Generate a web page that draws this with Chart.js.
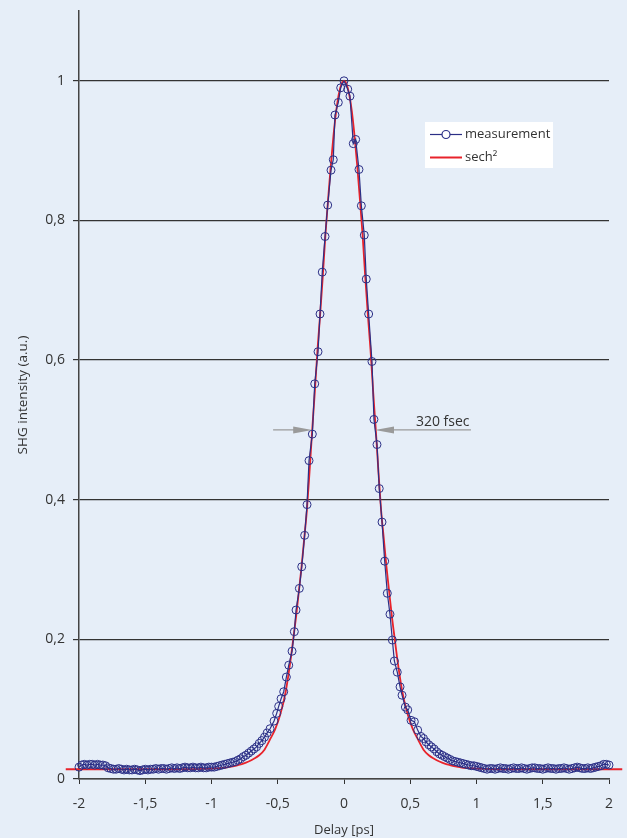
<!DOCTYPE html>
<html lang="en">
<head>
  <meta charset="UTF-8">
  <title>SHG autocorrelation</title>
  <script src="https://cdn.jsdelivr.net/npm/chart.js"></script>
  <style>
    html, body {
      margin: 0;
      padding: 0;
      background: #e6eef8;
    }
    #wrap {
      position: relative;
      width: 627px;
      height: 838px;
    }
  </style>
</head>
<body>
  <div id="wrap"><canvas id="acChart" width="627" height="838"></canvas></div>

  <script>
    // Measured autocorrelation trace (delay in ps, normalised SHG signal)
    const measDelay = [
      -2.00, -1.98, -1.96, -1.94, -1.92, -1.90, -1.88, -1.86, -1.84, -1.82, -1.80,
      -1.78, -1.76, -1.74, -1.72, -1.70, -1.68, -1.66, -1.64, -1.62, -1.60,
      -1.58, -1.56, -1.54, -1.52, -1.50, -1.48, -1.46, -1.44, -1.42, -1.40,
      -1.38, -1.36, -1.34, -1.32, -1.30, -1.28, -1.26, -1.24, -1.22, -1.20,
      -1.18, -1.16, -1.14, -1.12, -1.10, -1.08, -1.06, -1.04, -1.02, -1.00,
      -0.98, -0.96, -0.94, -0.92, -0.90, -0.88, -0.86, -0.84, -0.82, -0.80,
      -0.78, -0.76, -0.74, -0.72, -0.70, -0.68, -0.66, -0.64, -0.62, -0.60, -0.58,
      -0.558, -0.528, -0.508, -0.493, -0.475, -0.455, -0.435, -0.417, -0.392, -0.375,
      -0.362, -0.337, -0.319, -0.297, -0.279, -0.264, -0.239, -0.221, -0.196, -0.181,
      -0.164, -0.143, -0.123, -0.098, -0.081, -0.068, -0.043, -0.025, 0.000,
      0.028, 0.045, 0.070, 0.088, 0.113, 0.131, 0.153, 0.168, 0.186, 0.211,
      0.226, 0.249, 0.266, 0.287, 0.307, 0.327, 0.347, 0.365, 0.380, 0.402,
      0.423, 0.438, 0.463, 0.481, 0.506, 0.531, 0.556,
      0.58, 0.60, 0.62, 0.64, 0.66, 0.68, 0.70, 0.72, 0.74, 0.76, 0.78, 0.80,
      0.82, 0.84, 0.86, 0.88, 0.90, 0.92, 0.94, 0.96, 0.98,
      1.00, 1.02, 1.04, 1.06, 1.08, 1.10, 1.12, 1.14, 1.16, 1.18,
      1.20, 1.22, 1.24, 1.26, 1.28, 1.30, 1.32, 1.34, 1.36, 1.38,
      1.40, 1.42, 1.44, 1.46, 1.48, 1.50, 1.52, 1.54, 1.56, 1.58,
      1.60, 1.62, 1.64, 1.66, 1.68, 1.70, 1.72, 1.74, 1.76, 1.78,
      1.80, 1.82, 1.84, 1.86, 1.88, 1.90, 1.92, 1.94, 1.96, 1.98, 2.00
    ];
    const measSignal = [
      0.017, 0.020, 0.021, 0.020, 0.021, 0.021, 0.020, 0.021, 0.020, 0.020, 0.019,
      0.016, 0.015, 0.014, 0.014, 0.015, 0.014, 0.013, 0.014, 0.013, 0.013,
      0.014, 0.013, 0.012, 0.013, 0.014, 0.013, 0.014, 0.014, 0.015, 0.014,
      0.015, 0.015, 0.014, 0.015, 0.016, 0.015, 0.016, 0.015, 0.016, 0.017,
      0.016, 0.016, 0.017, 0.016, 0.016, 0.017, 0.016, 0.016, 0.017, 0.017,
      0.017, 0.018, 0.019, 0.020, 0.021, 0.022, 0.023, 0.024, 0.025, 0.027,
      0.029, 0.032, 0.034, 0.037, 0.040, 0.043, 0.046, 0.051, 0.055, 0.060, 0.066,
      0.072, 0.083, 0.094, 0.104, 0.115, 0.125, 0.146, 0.163, 0.183, 0.211,
      0.242, 0.273, 0.304, 0.349, 0.393, 0.456, 0.494, 0.566, 0.612, 0.666,
      0.726, 0.777, 0.822, 0.872, 0.887, 0.951, 0.969, 0.990, 1.000,
      0.988, 0.978, 0.910, 0.916, 0.873, 0.821, 0.779, 0.716, 0.666, 0.598,
      0.515, 0.479, 0.416, 0.368, 0.312, 0.266, 0.236, 0.199, 0.169, 0.153,
      0.132, 0.120, 0.103, 0.099, 0.084, 0.082, 0.070,
      0.061, 0.058, 0.053, 0.049, 0.046, 0.043, 0.039, 0.036, 0.034, 0.032, 0.030, 0.028,
      0.026, 0.025, 0.024, 0.023, 0.022, 0.021, 0.020, 0.019, 0.019,
      0.018, 0.017, 0.016, 0.015, 0.014, 0.015, 0.015, 0.014, 0.015, 0.016,
      0.015, 0.015, 0.014, 0.015, 0.016, 0.015, 0.015, 0.016, 0.015, 0.014,
      0.015, 0.016, 0.016, 0.015, 0.015, 0.014, 0.015, 0.016, 0.015, 0.015,
      0.014, 0.015, 0.015, 0.016, 0.015, 0.014, 0.015, 0.016, 0.017, 0.016,
      0.015, 0.015, 0.016, 0.015, 0.016, 0.017, 0.018, 0.019, 0.021, 0.021, 0.020
    ];

    // sech² fit
    const fitDelay = [
      -2.10, -1.50, -1.20, -1.00, -0.90, -0.84, -0.80, -0.76, -0.72, -0.68, -0.64,
      -0.60, -0.56, -0.52, -0.48, -0.44, -0.40, -0.38, -0.36, -0.34, -0.32, -0.30,
      -0.28, -0.26, -0.24, -0.22, -0.20, -0.18, -0.16, -0.14, -0.12, -0.10, -0.08,
      -0.06, -0.04, -0.02, 0.00,
      0.02, 0.04, 0.06, 0.08, 0.10, 0.12, 0.14, 0.16, 0.18, 0.20, 0.22, 0.24,
      0.26, 0.28, 0.30, 0.32, 0.34, 0.36, 0.38, 0.40, 0.44, 0.48, 0.52, 0.56,
      0.60, 0.64, 0.68, 0.72, 0.76, 0.80, 0.84, 0.90, 1.00, 1.20, 1.50, 2.10
    ];
    const fitSignal = [
      0.014, 0.014, 0.014, 0.015, 0.016, 0.018, 0.020, 0.022, 0.025, 0.029, 0.034,
      0.042, 0.056, 0.071, 0.093, 0.125, 0.175, 0.205, 0.235, 0.270, 0.305, 0.345,
      0.385, 0.440, 0.500, 0.555, 0.615, 0.665, 0.720, 0.780, 0.830, 0.878, 0.920,
      0.955, 0.980, 0.995, 1.000,
      0.995, 0.980, 0.955, 0.920, 0.878, 0.830, 0.780, 0.720, 0.665, 0.615, 0.555, 0.500,
      0.440, 0.385, 0.345, 0.305, 0.270, 0.235, 0.205, 0.175, 0.125, 0.093, 0.071, 0.056,
      0.042, 0.034, 0.029, 0.025, 0.022, 0.020, 0.018, 0.016, 0.015, 0.014, 0.014, 0.014
    ];

    const xTicks = [-2, -1.5, -1, -0.5, 0, 0.5, 1, 1.5, 2];
    const yTicks = [0, 0.2, 0.4, 0.6, 0.8, 1];
    const seriesNames = ['measurement', 'sech²'];
    const fwhmText = '320 fsec';

    const NAVY = '#2b2f86';
    const RED = '#e8232b';
    const TEXT = '#333333';
    const FONT = "'Open Sans', 'DejaVu Sans', sans-serif";

    const toXY = (xs, ys) => xs.map((x, i) => ({ x: x, y: ys[i] }));
    const comma = v => String(v).replace('.', ',');

    // FWHM arrow and legend box drawn on top of the plot
    const overlay = {
      id: 'overlay',
      afterDatasetsDraw(chart) {
        const ctx = chart.ctx;
        const xs = chart.scales.x, ys = chart.scales.y;
        const y = ys.getPixelForValue(0.5);
        const x0 = xs.getPixelForValue(-0.535);
        const xl = xs.getPixelForValue(-0.24);
        const xr = xs.getPixelForValue(0.234);
        const x1 = xs.getPixelForValue(0.958);

        ctx.save();
        ctx.strokeStyle = '#9a9a9a';
        ctx.fillStyle = '#9a9a9a';
        ctx.lineWidth = 1.2;
        ctx.beginPath();
        ctx.moveTo(x0, y); ctx.lineTo(xl - 18, y);
        ctx.moveTo(xr + 18, y); ctx.lineTo(x1, y);
        ctx.stroke();
        ctx.beginPath();
        ctx.moveTo(xl, y); ctx.lineTo(xl - 19, y - 3.5); ctx.lineTo(xl - 19, y + 3.5);
        ctx.closePath(); ctx.fill();
        ctx.beginPath();
        ctx.moveTo(xr, y); ctx.lineTo(xr + 19, y - 3.5); ctx.lineTo(xr + 19, y + 3.5);
        ctx.closePath(); ctx.fill();

        ctx.fillStyle = TEXT;
        ctx.font = '14px ' + FONT;
        ctx.textAlign = 'left';
        ctx.textBaseline = 'middle';
        ctx.fillText(fwhmText, xs.getPixelForValue(0.543), ys.getPixelForValue(0.512));

        // legend
        const bx = 425, by = 122;
        ctx.fillStyle = '#ffffff';
        ctx.fillRect(bx, by, 128, 46);
        ctx.lineWidth = 1.2;
        ctx.strokeStyle = NAVY;
        ctx.beginPath();
        ctx.moveTo(bx + 5, by + 12.5); ctx.lineTo(bx + 37, by + 12.5);
        ctx.stroke();
        ctx.beginPath();
        ctx.arc(bx + 21, by + 12.5, 4, 0, Math.PI * 2);
        ctx.fillStyle = '#ffffff';
        ctx.fill();
        ctx.stroke();
        ctx.strokeStyle = RED;
        ctx.lineWidth = 2;
        ctx.beginPath();
        ctx.moveTo(bx + 5, by + 35.5); ctx.lineTo(bx + 37, by + 35.5);
        ctx.stroke();
        ctx.fillStyle = TEXT;
        ctx.font = '13px ' + FONT;
        ctx.fillText(seriesNames[0], bx + 40, by + 12.5);
        ctx.fillText(seriesNames[1], bx + 40, by + 35.5);
        ctx.restore();
      }
    };

    new Chart(document.getElementById('acChart'), {
      type: 'line',
      data: {
        datasets: [
          {
            label: seriesNames[0],
            data: toXY(measDelay, measSignal),
            borderColor: NAVY,
            borderWidth: 1.2,
            pointRadius: 4,
            pointBorderWidth: 1,
            pointBorderColor: NAVY,
            pointBackgroundColor: 'rgba(0,0,0,0)',
            tension: 0,
            clip: false
          },
          {
            label: seriesNames[1],
            data: toXY(fitDelay, fitSignal),
            borderColor: RED,
            borderWidth: 1.8,
            pointRadius: 0,
            cubicInterpolationMode: 'monotone',
            clip: false
          }
        ]
      },
      options: {
        responsive: false,
        animation: false,
        devicePixelRatio: 1,
        layout: { padding: { top: 11, right: 18, left: 0, bottom: 0 } },
        plugins: {
          legend: { display: false },
          tooltip: { enabled: false }
        },
        scales: {
          x: {
            type: 'linear',
            min: -2,
            max: 2,
            afterBuildTicks: s => { s.ticks = xTicks.map(v => ({ value: v })); },
            afterFit: s => { s.height = 59; },
            grid: { drawOnChartArea: false, drawTicks: true, tickLength: 5, color: '#333', lineWidth: 1 },
            border: { color: '#444', width: 1.5 },
            ticks: { color: TEXT, font: { family: FONT, size: 14 }, padding: 12, maxRotation: 0, callback: comma },
            title: { display: true, text: 'Delay [ps]', color: TEXT, font: { family: FONT, size: 13 }, padding: { top: 0, bottom: 0 } }
          },
          y: {
            type: 'linear',
            min: 0,
            max: 1.1,
            afterBuildTicks: s => { s.ticks = yTicks.map(v => ({ value: v })); },
            afterFit: s => { s.width = 79; s.paddingTop = 0; s.paddingBottom = 0; },
            grid: { drawOnChartArea: true, drawTicks: true, tickLength: 6, color: '#333', lineWidth: 1.2 },
            border: { color: '#444', width: 1.5 },
            ticks: { color: TEXT, font: { family: FONT, size: 14 }, padding: 8, callback: comma },
            title: { display: true, text: 'SHG intensity (a.u.)', color: TEXT, font: { family: FONT, size: 13.5 }, padding: { top: 15, bottom: 0 } }
          }
        }
      },
      plugins: [overlay]
    });
  </script>
</body>
</html>
